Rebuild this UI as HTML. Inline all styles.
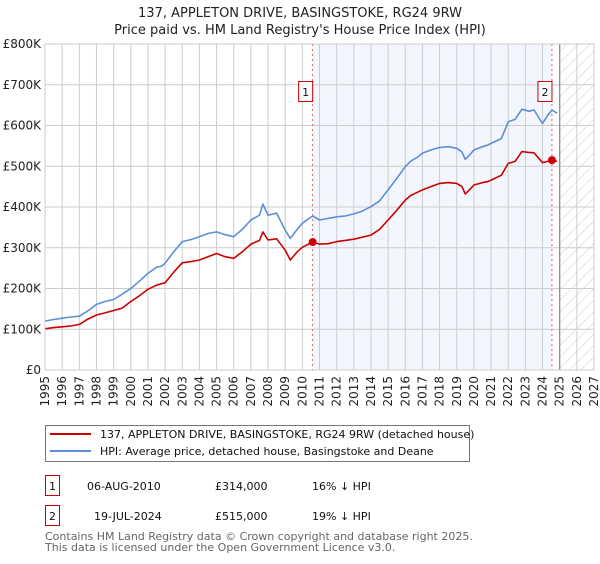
<!DOCTYPE html>
<html><head><meta charset="utf-8">
<style>
body{margin:0;background:#fff;font-family:"DejaVu Sans","Liberation Sans",sans-serif;}
svg text{font-family:"DejaVu Sans","Liberation Sans",sans-serif;}
</style></head>
<body>
<svg id="chart" width="600" height="560" viewBox="0 0 600 560">
<defs>
<pattern id="hatch" patternUnits="userSpaceOnUse" width="8" height="8" patternTransform="rotate(45)">
<line x1="0" y1="0" x2="0" y2="8" stroke="#ccc" stroke-width="1"/>
</pattern>
</defs>
<text x="300" y="17" text-anchor="middle" font-size="13" fill="#222">137, APPLETON DRIVE, BASINGSTOKE, RG24 9RW</text>
<text x="300" y="34" text-anchor="middle" font-size="13" fill="#222">Price paid vs. HM Land Registry's House Price Index (HPI)</text>
<g id="plot"></g>
<g>
<rect x="45.5" y="425.5" width="424" height="36" fill="#fff" stroke="#777"/>
<line x1="50" y1="434" x2="91" y2="434" stroke="#cc0000" stroke-width="2"/>
<text x="100" y="438" font-size="11" fill="#111">137, APPLETON DRIVE, BASINGSTOKE, RG24 9RW (detached house)</text>
<line x1="50" y1="451" x2="91" y2="451" stroke="#5b8fd6" stroke-width="2"/>
<text x="100" y="455" font-size="11" fill="#111">HPI: Average price, detached house, Basingstoke and Deane</text>
</g>
<g font-size="11" fill="#111">
<rect x="45.5" y="475.5" width="14" height="20" fill="#fff" stroke="#cc0000"/>
<text x="52.5" y="490" text-anchor="middle">1</text>
<text x="87" y="490">06-AUG-2010</text>
<text x="215" y="490">£314,000</text>
<text x="312" y="490">16% ↓ HPI</text>
<rect x="45.5" y="505.5" width="14" height="20" fill="#fff" stroke="#cc0000"/>
<text x="52.5" y="520" text-anchor="middle">2</text>
<text x="94" y="520">19-JUL-2024</text>
<text x="215" y="520">£515,000</text>
<text x="312" y="520">19% ↓ HPI</text>
</g>
<text x="45" y="540" font-size="11" fill="#666">Contains HM Land Registry data © Crown copyright and database right 2025.</text>
<text x="45" y="551" font-size="11" fill="#666">This data is licensed under the Open Government Licence v3.0.</text>
</svg>
<script>
const hpiYears=[1995,1995.5,1996,1996.5,1997,1997.5,1998,1998.5,1999,1999.5,2000,2000.5,2001,2001.5,2001.8,2002,2002.5,2003,2003.5,2004,2004.5,2005,2005.5,2006,2006.5,2007,2007.5,2007.7,2008,2008.5,2009,2009.3,2009.7,2010,2010.6,2011,2011.5,2012,2012.5,2013,2013.5,2014,2014.5,2015,2015.5,2016,2016.3,2016.7,2017,2017.5,2018,2018.5,2019,2019.3,2019.5,2019.8,2020,2020.5,2020.8,2021,2021.6,2022,2022.4,2022.8,2023.2,2023.5,2024,2024.3,2024.55,2024.85];
const hpiValues=[120,124,127,130,132,145,161,168,173,186,200,218,237,252,255,262,290,315,320,327,335,339,332,327,345,368,380,407,380,385,343,323,345,360,378,368,372,376,378,383,390,401,415,442,470,499,512,522,532,540,546,548,544,535,517,530,540,548,552,556,568,609,615,640,635,638,605,625,638,630];
const saleYears=[1995,1995.5,1996,1996.5,1997,1997.5,1998,1998.5,1999,1999.5,2000,2000.5,2001,2001.5,2001.8,2002,2002.5,2003,2003.5,2004,2004.5,2005,2005.5,2006,2006.5,2007,2007.5,2007.7,2008,2008.5,2009,2009.3,2009.7,2010,2010.6,2011,2011.5,2012,2012.5,2013,2013.5,2014,2014.5,2015,2015.5,2016,2016.3,2016.7,2017,2017.5,2018,2018.5,2019,2019.3,2019.5,2019.8,2020,2020.5,2020.8,2021,2021.6,2022,2022.4,2022.8,2023.2,2023.5,2024,2024.3,2024.55,2024.85];
const saleValues=[101,104,106,108,112,125,135,140,146,152,168,182,198,208,212,214,240,263,266,270,278,286,278,274,290,309,318,339,319,322,294,270,290,301,314,309,310,315,318,321,326,331,345,368,392,417,428,436,442,450,458,460,458,450,432,445,454,460,462,466,478,507,512,536,534,533,509,512,515,512];
const saleMarkYears=[2010.6,2024.55];
const saleMarkValues=[314,515];
const yTicks=[0,100,200,300,400,500,600,700,800];
const yTickLabels=["£0","£100K","£200K","£300K","£400K","£500K","£600K","£700K","£800K"];
const xTicks=[1995,1996,1997,1998,1999,2000,2001,2002,2003,2004,2005,2006,2007,2008,2009,2010,2011,2012,2013,2014,2015,2016,2017,2018,2019,2020,2021,2022,2023,2024,2025,2026,2027];

const X0=45,X1=594,Y0=370,Y1=44;
const xs=y=>X0+(y-1995)/(2027-1995)*(X1-X0);
const ys=v=>Y0-v/800*(Y0-Y1);
const NS="http://www.w3.org/2000/svg";
const plot=document.getElementById('plot');
function mk(tag,attrs,parent){const e=document.createElementNS(NS,tag);for(const k in attrs)e.setAttribute(k,attrs[k]);(parent||plot).appendChild(e);return e;}

let e=mk('rect',{x:xs(2010.6),y:Y1,width:xs(2024.55)-xs(2010.6),height:Y0-Y1,fill:'#eef3fc',opacity:0.7});


e=mk('rect',{x:xs(2025),y:Y1,width:X1-xs(2025),height:Y0-Y1,fill:'url(#hatch)'});



xTicks.forEach((t,i)=>{
  const g=mk('line',{x1:xs(t),x2:xs(t),y1:Y1,y2:Y0,stroke:'#ccc','stroke-width':1});
  
  
  const tx=xs(t)+4, ty=Y0+6;
  const l=mk('text',{x:tx,y:ty,'text-anchor':'end','font-size':12,fill:'#222',transform:'rotate(-90 '+tx+' '+ty+')'});
  l.textContent=t;
  
  
});
yTicks.forEach((t,i)=>{
  const g=mk('line',{x1:X0,x2:X1,y1:ys(t),y2:ys(t),stroke:'#ccc','stroke-width':1});
  
  
  const l=mk('text',{x:X0-4,y:ys(t)+4,'text-anchor':'end','font-size':12,fill:'#222'});
  l.textContent=yTickLabels[i];
  
  
});
e=mk('line',{x1:xs(2025),x2:xs(2025),y1:Y1,y2:Y0,stroke:'#888','stroke-width':1.2});


saleMarkYears.forEach((yr,i)=>{
  const l=mk('line',{x1:xs(yr),x2:xs(yr),y1:Y1,y2:Y0,stroke:'#e06060','stroke-width':1,'stroke-dasharray':'2,3'});
  
  
});
function path(xa,va,col,name){
  const d=xa.map((x,i)=>(i?'L':'M')+xs(x).toFixed(1)+','+ys(va[i]).toFixed(1)).join('');
  const p=mk('path',{d:d,fill:'none',stroke:col,'stroke-width':1.6,'stroke-linejoin':'round'});
  
  
}
path(hpiYears,hpiValues,'#5b8fd6','hpi-line');
path(saleYears,saleValues,'#cc0000','property-price-line');
saleMarkYears.forEach((yr,i)=>{
  const c=mk('circle',{cx:xs(yr),cy:ys(saleMarkValues[i]),r:4,fill:'#cc0000'});
  
  
  const bx=xs(yr)-14;
  const r=mk('rect',{x:bx,y:81.5,width:14,height:20,fill:'#fff',stroke:'#cc0000'});
  
  
  const t=mk('text',{x:bx+7,y:96,'text-anchor':'middle','font-size':11,fill:'#111'});
  t.textContent=String(i+1);
  
  
});
e=mk('rect',{x:X0,y:Y1,width:X1-X0,height:Y0-Y1,fill:'none',stroke:'#ccc'});


</script>
</body></html>
